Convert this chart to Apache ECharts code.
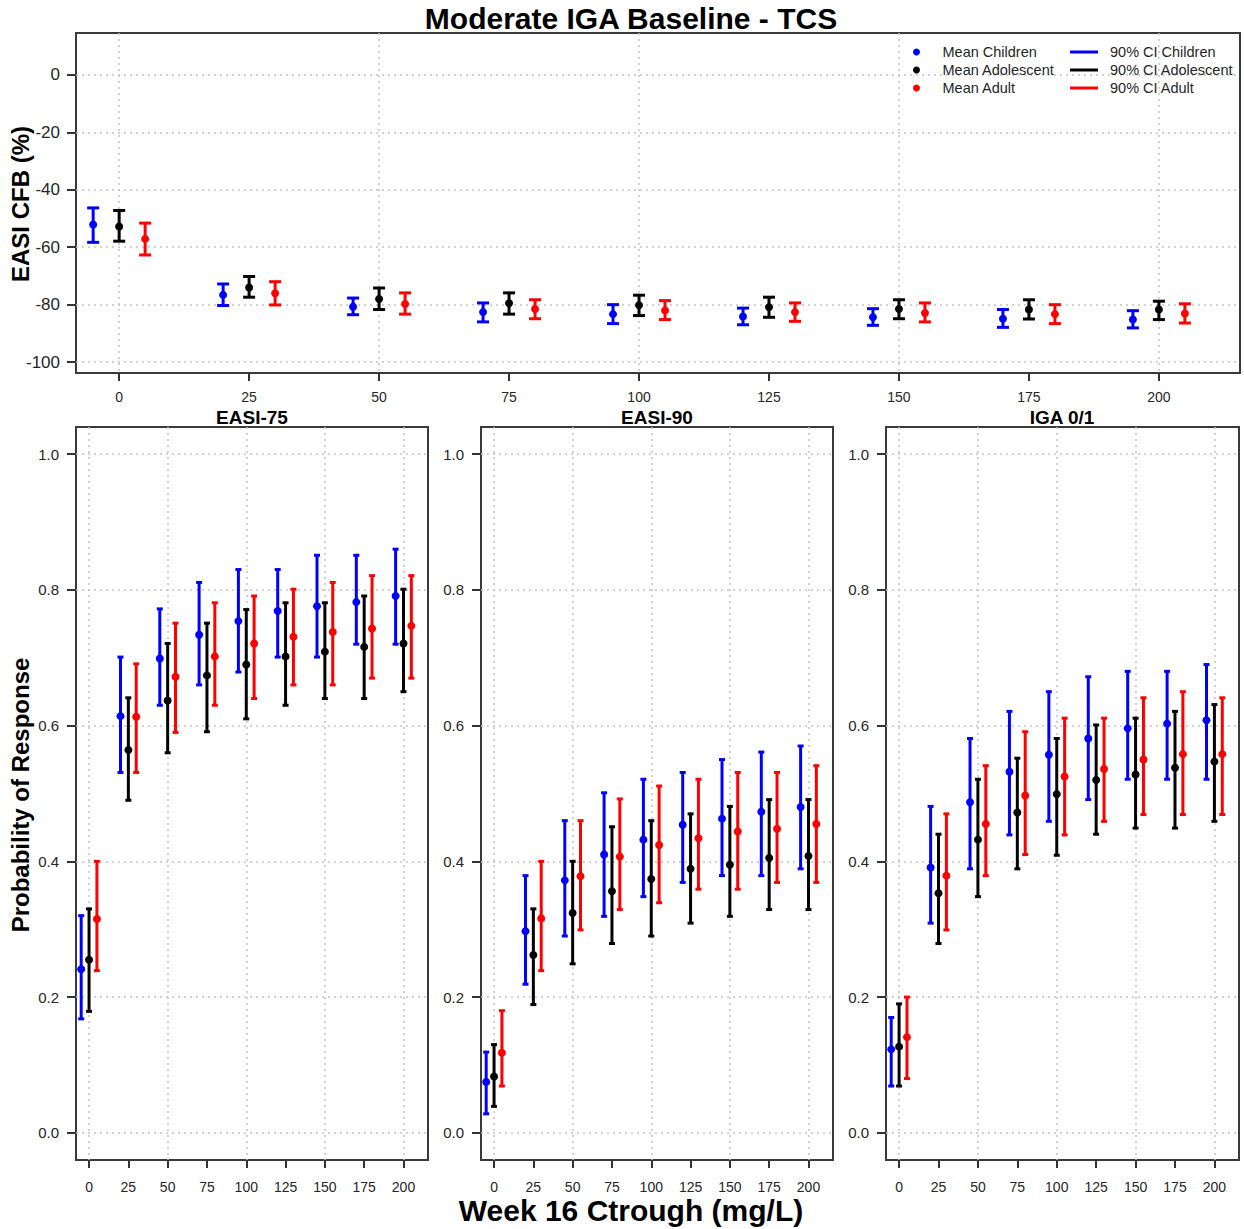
<!DOCTYPE html>
<html><head><meta charset="utf-8">
<script src="https://cdn.jsdelivr.net/npm/echarts@6/dist/echarts.min.js"></script>
<style>html,body{margin:0;padding:0;background:#fff}#c{width:1244px;height:1229px}</style>
</head><body><div id="c"></div>
<script>
// ---------- data ----------
const doses = [0, 25, 50, 75, 100, 125, 150, 175, 200];
const xTickLabels = [0, 25, 50, 75, 100, 125, 150, 175, 200];
const xGridValues = [0, 50, 100, 150, 200];
const cfbTicks = [-100, -80, -60, -40, -20, 0];
const probTicks = [0, 0.2, 0.4, 0.6, 0.8, 1.0];
const groupNames = ['Children', 'Adolescent', 'Adult'];
const panelTitles = ['EASI-75', 'EASI-90', 'IGA 0/1'];

// EASI CFB (%)
const cfbChildMean = [-52.1, -76.6, -80.7, -82.6, -83.3, -84.1, -84.4, -84.9, -85.2];
const cfbChildLo   = [-58.3, -80.3, -83.5, -86.0, -86.6, -87.0, -87.2, -87.9, -88.1];
const cfbChildHi   = [-46.3, -72.8, -77.7, -79.4, -80.0, -81.2, -81.4, -81.7, -82.1];
const cfbAdolMean  = [-52.8, -74.0, -78.0, -79.5, -80.2, -80.9, -81.5, -81.7, -81.7];
const cfbAdolLo    = [-57.9, -77.4, -81.7, -83.3, -83.8, -84.4, -84.9, -85.0, -85.2];
const cfbAdolHi    = [-47.2, -70.2, -74.2, -75.9, -76.7, -77.4, -78.3, -78.3, -78.8];
const cfbAdultMean = [-57.1, -76.0, -79.8, -81.5, -82.0, -82.6, -82.9, -83.3, -83.1];
const cfbAdultLo   = [-62.7, -80.1, -83.3, -84.9, -85.2, -85.8, -86.0, -86.6, -86.4];
const cfbAdultHi   = [-51.6, -72.0, -75.9, -78.3, -78.6, -79.4, -79.4, -80.0, -79.7];

// EASI-75
const e75ChildMean = [0.241, 0.614, 0.699, 0.734, 0.754, 0.769, 0.776, 0.782, 0.791];
const e75ChildLo   = [0.168, 0.531, 0.630, 0.660, 0.679, 0.701, 0.701, 0.720, 0.720];
const e75ChildHi   = [0.320, 0.701, 0.772, 0.811, 0.830, 0.830, 0.851, 0.851, 0.860];
const e75AdolMean  = [0.255, 0.564, 0.637, 0.674, 0.690, 0.702, 0.709, 0.716, 0.721];
const e75AdolLo    = [0.179, 0.490, 0.560, 0.591, 0.610, 0.630, 0.640, 0.640, 0.650];
const e75AdolHi    = [0.330, 0.641, 0.721, 0.751, 0.771, 0.781, 0.781, 0.791, 0.801];
const e75AdultMean = [0.315, 0.613, 0.672, 0.702, 0.721, 0.731, 0.738, 0.743, 0.747];
const e75AdultLo   = [0.239, 0.531, 0.590, 0.630, 0.640, 0.660, 0.660, 0.670, 0.670];
const e75AdultHi   = [0.400, 0.691, 0.751, 0.781, 0.791, 0.801, 0.811, 0.821, 0.821];

// EASI-90
const e90ChildMean = [0.075, 0.297, 0.372, 0.410, 0.432, 0.454, 0.463, 0.473, 0.480];
const e90ChildLo   = [0.028, 0.219, 0.290, 0.319, 0.348, 0.369, 0.379, 0.379, 0.389];
const e90ChildHi   = [0.119, 0.379, 0.460, 0.501, 0.521, 0.531, 0.550, 0.561, 0.570];
const e90AdolMean  = [0.083, 0.262, 0.324, 0.356, 0.374, 0.389, 0.395, 0.405, 0.408];
const e90AdolLo    = [0.039, 0.189, 0.249, 0.279, 0.290, 0.309, 0.319, 0.329, 0.329];
const e90AdolHi    = [0.130, 0.330, 0.400, 0.451, 0.460, 0.470, 0.481, 0.491, 0.491];
const e90AdultMean = [0.118, 0.316, 0.378, 0.407, 0.424, 0.434, 0.444, 0.448, 0.455];
const e90AdultLo   = [0.069, 0.239, 0.299, 0.329, 0.339, 0.359, 0.359, 0.369, 0.369];
const e90AdultHi   = [0.180, 0.400, 0.460, 0.492, 0.511, 0.521, 0.531, 0.531, 0.541];

// IGA 0/1
const igaChildMean = [0.123, 0.391, 0.487, 0.532, 0.557, 0.581, 0.596, 0.603, 0.608];
const igaChildLo   = [0.069, 0.309, 0.389, 0.439, 0.459, 0.491, 0.521, 0.521, 0.521];
const igaChildHi   = [0.170, 0.481, 0.581, 0.621, 0.650, 0.672, 0.680, 0.680, 0.690];
const igaAdolMean  = [0.127, 0.353, 0.432, 0.472, 0.499, 0.520, 0.528, 0.538, 0.547];
const igaAdolLo    = [0.069, 0.279, 0.348, 0.389, 0.409, 0.440, 0.449, 0.449, 0.459];
const igaAdolHi    = [0.190, 0.440, 0.521, 0.552, 0.581, 0.601, 0.611, 0.621, 0.631];
const igaAdultMean = [0.141, 0.379, 0.455, 0.497, 0.525, 0.536, 0.550, 0.558, 0.558];
const igaAdultLo   = [0.080, 0.299, 0.379, 0.410, 0.439, 0.459, 0.469, 0.469, 0.469];
const igaAdultHi   = [0.200, 0.470, 0.541, 0.591, 0.611, 0.611, 0.641, 0.650, 0.641];

// ---------- chart ----------
const FONT = '"Liberation Sans", Arial, sans-serif';
const colors = ['#0000ff', '#000000', '#ff0000'];
const dodge = [-5, 0, 5];

const panels = [
  [[cfbChildMean, cfbChildLo, cfbChildHi], [cfbAdolMean, cfbAdolLo, cfbAdolHi], [cfbAdultMean, cfbAdultLo, cfbAdultHi]],
  [[e75ChildMean, e75ChildLo, e75ChildHi], [e75AdolMean, e75AdolLo, e75AdolHi], [e75AdultMean, e75AdultLo, e75AdultHi]],
  [[e90ChildMean, e90ChildLo, e90ChildHi], [e90AdolMean, e90AdolLo, e90AdolHi], [e90AdultMean, e90AdultLo, e90AdultHi]],
  [[igaChildMean, igaChildLo, igaChildHi], [igaAdolMean, igaAdolLo, igaAdolHi], [igaAdultMean, igaAdultLo, igaAdultHi]]
];

const grids = [
  {left: 76, top: 33, width: 1164, height: 340},
  {left: 76, top: 427, width: 352, height: 733},
  {left: 481, top: 427, width: 352, height: 733},
  {left: 886, top: 427, width: 353, height: 733}
].map(g => Object.assign(g, {show: true, borderColor: '#3a3a3a', borderWidth: 2, backgroundColor: 'transparent', containLabel: false}));

const XMIN = -8.3, XMAX = 215.6;
const gridLineStyle = {type: [2, 4], color: '#c4c4c4', width: 1.5};
const LABEL_COLOR = '#262626';

const xAxes = [], yAxes = [];
grids.forEach((g, i) => {
  const top = i === 0;
  xAxes.push({
    type: 'value', gridIndex: i, min: XMIN, max: XMAX, position: 'bottom',
    axisLine: {show: false, onZero: false},
    axisTick: {show: true, customValues: xTickLabels, length: 8, lineStyle: {color: '#333', width: 2}},
    axisLabel: {customValues: xTickLabels, margin: top ? 17 : 20, fontSize: 14, color: LABEL_COLOR, fontFamily: FONT},
    splitLine: {show: false}
  });
  xAxes.push({
    type: 'value', gridIndex: i, min: XMIN, max: XMAX, position: 'bottom',
    axisLine: {show: false, onZero: false},
    axisTick: {show: false, customValues: xGridValues},
    axisLabel: {show: false, customValues: xGridValues},
    splitLine: {show: true, lineStyle: gridLineStyle}
  });
  yAxes.push({
    type: 'value', gridIndex: i,
    min: top ? -103.8 : -0.04, max: top ? 14.6 : 1.04,
    axisLine: {show: false, onZero: false},
    axisTick: {show: true, customValues: top ? cfbTicks : probTicks, length: 9, lineStyle: {color: '#333', width: 2}},
    axisLabel: {customValues: top ? cfbTicks : probTicks, margin: top ? 16 : 17, fontSize: top ? 17 : 15, color: LABEL_COLOR, fontFamily: FONT,
      formatter: v => top ? String(Math.round(v)) : Number(v).toFixed(1)},
    splitLine: {show: true, lineStyle: gridLineStyle}
  });
});

const series = [];
panels.forEach((panel, p) => {
  const capHalf = p === 0 ? 6 : 3;
  const lw = 3;
  panel.forEach((grp, gi) => {
    const [mean, lo, hi] = grp;
    series.push({
      type: 'custom',
      name: '90% CI ' + groupNames[gi],
      xAxisIndex: 2 * p, yAxisIndex: p,
      itemStyle: {color: colors[gi]},
      encode: {x: 0, y: [1, 2]},
      data: doses.map((d, i) => [d + dodge[gi], lo[i], hi[i]]),
      z: 2,
      renderItem: (params, api) => {
        const x = api.value(0);
        const a = api.coord([x, api.value(1)]);
        const b = api.coord([x, api.value(2)]);
        const st = {stroke: colors[gi], lineWidth: lw};
        return {type: 'group', children: [
          {type: 'line', shape: {x1: a[0], y1: a[1], x2: b[0], y2: b[1]}, style: st},
          {type: 'line', shape: {x1: a[0] - capHalf, y1: a[1], x2: a[0] + capHalf, y2: a[1]}, style: st},
          {type: 'line', shape: {x1: b[0] - capHalf, y1: b[1], x2: b[0] + capHalf, y2: b[1]}, style: st}
        ]};
      }
    });
    series.push({
      type: 'scatter',
      name: 'Mean ' + groupNames[gi],
      xAxisIndex: 2 * p, yAxisIndex: p,
      symbol: 'circle', symbolSize: 8,
      itemStyle: {color: colors[gi], opacity: 1},
      data: doses.map((d, i) => [d + dodge[gi], mean[i]]),
      z: 3
    });
  });
});

const titles = [{text: 'Moderate IGA Baseline - TCS', left: 631, top: 3, textAlign: 'center', padding: 0,
  textStyle: {fontSize: 30, fontWeight: 'bold', color: '#000', fontFamily: FONT}}];
[252, 657, 1062].forEach((cx, i) => titles.push({
  text: panelTitles[i], left: cx, top: 408, textAlign: 'center', padding: 0,
  textStyle: {fontSize: 19, fontWeight: 'bold', color: '#000', fontFamily: FONT}
}));

const legendText = {fontSize: 14.5, lineHeight: 18, color: '#262626', fontFamily: FONT};
const option = {
  animation: false,
  backgroundColor: '#fff',
  title: titles,
  legend: [
    {orient: 'vertical', left: 913, top: 43, padding: 0, itemGap: 0, itemWidth: 42, itemHeight: 7,
      icon: 'circle', selectedMode: false, textStyle: legendText,
      data: groupNames.map(n => 'Mean ' + n)},
    {orient: 'vertical', left: 1070, top: 43, padding: 0, itemGap: 0, itemWidth: 28, itemHeight: 3,
      icon: 'rect', selectedMode: false, textStyle: Object.assign({}, legendText, {padding: [0, 0, 0, 7]}),
      data: groupNames.map(n => '90% CI ' + n)}
  ],
  grid: grids,
  xAxis: xAxes,
  yAxis: yAxes,
  series: series,
  graphic: [
    {type: 'text', x: 20, y: 204, rotation: Math.PI / 2,
      style: {text: 'EASI CFB (%)', font: 'bold 24px ' + FONT, fill: '#000', align: 'center', verticalAlign: 'middle', textAlign: 'center', textVerticalAlign: 'middle'}},
    {type: 'text', x: 20, y: 795, rotation: Math.PI / 2,
      style: {text: 'Probability of Response', font: 'bold 24px ' + FONT, fill: '#000', align: 'center', verticalAlign: 'middle', textAlign: 'center', textVerticalAlign: 'middle'}},
    {type: 'text', x: 631, y: 1210,
      style: {text: 'Week 16 Ctrough (mg/L)', font: 'bold 30px ' + FONT, fill: '#000', align: 'center', verticalAlign: 'middle', textAlign: 'center', textVerticalAlign: 'middle'}}
  ]
};

const chart = echarts.init(document.getElementById('c'), null, {renderer: 'svg'});
chart.setOption(option);
</script>
</body></html>
